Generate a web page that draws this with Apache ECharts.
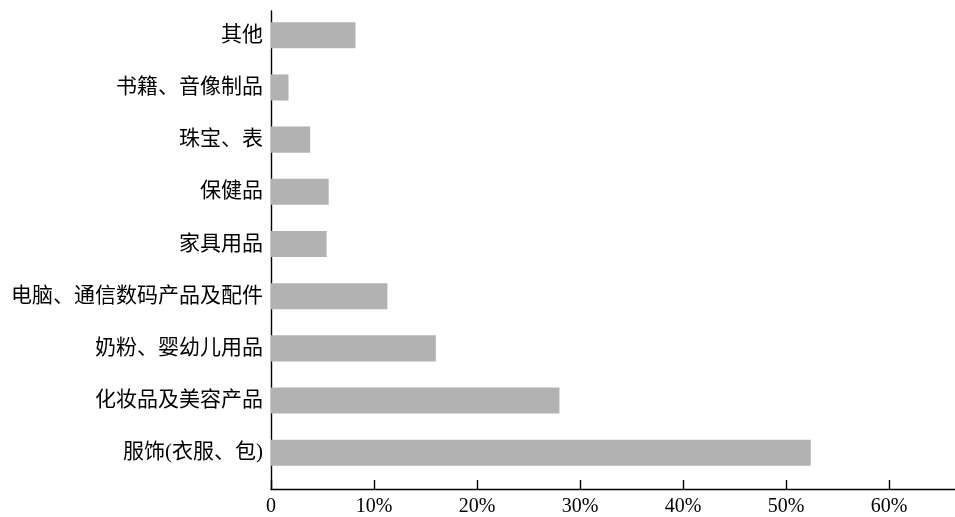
<!DOCTYPE html>
<html>
<head>
<meta charset="utf-8">
<script src="https://cdn.jsdelivr.net/npm/echarts@6/dist/echarts.min.js"></script>
<style>
  html, body { margin: 0; padding: 0; background: #ffffff; }
  #chart { width: 955px; height: 517px; }
</style>
</head>
<body>
<div id="chart"></div>
<script>
// Categories, listed top to bottom
const categories = [
  '其他',
  '书籍、音像制品',
  '珠宝、表',
  '保健品',
  '家具用品',
  '电脑、通信数码产品及配件',
  '奶粉、婴幼儿用品',
  '化妆品及美容产品',
  '服饰(衣服、包)'
];
// Share of each category, in percent
const shares = [8.2, 1.7, 3.8, 5.6, 5.4, 11.3, 16.0, 28.0, 52.4];
// Tick values on the percent axis
const tickValues = [0, 10, 20, 30, 40, 50, 60];

const X_MAX = 66.4;
const FONT = '"Liberation Serif", "Times New Roman", "Noto Sans CJK SC", serif';

const chart = echarts.init(document.getElementById('chart'), null, { renderer: 'canvas' });

chart.setOption({
  backgroundColor: '#ffffff',
  animation: false,
  grid: [
    // band area for the bars
    { left: 271, right: 0, top: 9.2, bottom: 38.2 },
    // frame carrying the visible axes
    { left: 271, right: 0, top: 11, bottom: 25.5 }
  ],
  xAxis: [
    {
      gridIndex: 0, type: 'value', min: 0, max: X_MAX,
      show: false
    },
    {
      gridIndex: 1, type: 'value', min: 0, max: X_MAX,
      axisLine: { show: true, onZero: false, lineStyle: { color: '#000', width: 1.4 } },
      axisTick: { show: true, inside: true, length: 9, customValues: tickValues,
                  lineStyle: { color: '#000', width: 1.4 } },
      axisLabel: {
        customValues: tickValues,
        formatter: v => (v === 0 ? '0' : v + '%'),
        color: '#000', fontFamily: FONT, fontSize: 20, margin: 8
      },
      splitLine: { show: false }
    }
  ],
  yAxis: [
    {
      gridIndex: 0, type: 'category', data: categories, inverse: true,
      axisLine: { show: false },
      axisTick: { show: false },
      axisLabel: { color: '#000', fontFamily: FONT, fontSize: 21, margin: 8 }
    },
    {
      gridIndex: 1, type: 'value', min: 0, max: 1,
      axisLine: { show: true, onZero: false, lineStyle: { color: '#000', width: 1.4 } },
      axisTick: { show: false },
      axisLabel: { show: false },
      splitLine: { show: false }
    }
  ],
  series: [{
    type: 'bar',
    xAxisIndex: 0,
    yAxisIndex: 0,
    data: shares,
    barWidth: '50%',
    itemStyle: { color: '#b2b2b2' }
  }]
});
</script>
</body>
</html>
